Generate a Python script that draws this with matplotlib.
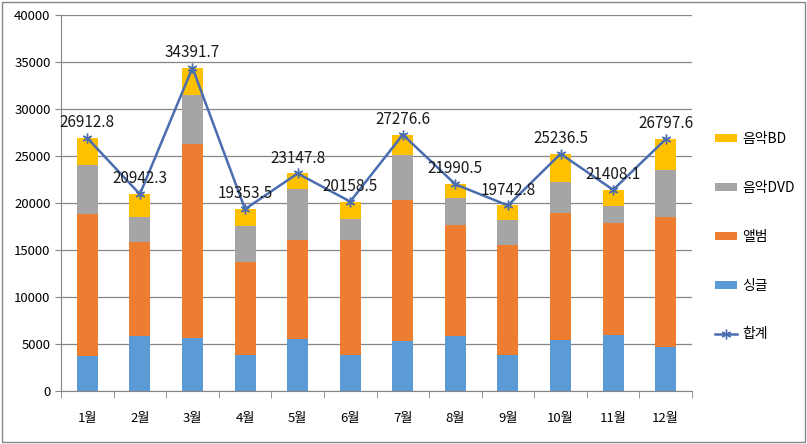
import matplotlib.pyplot as plt
from matplotlib.patches import Rectangle
import numpy as np

plt.rcParams['font.family'] = ['Noto Sans CJK KR', 'DejaVu Sans']

months = ['1월', '2월', '3월', '4월', '5월', '6월', '7월', '8월', '9월', '10월', '11월', '12월']
single = [3760, 5820, 5640, 3870, 5570, 3870, 5280, 5820, 3790, 5390, 5920, 4650]
album = [15070, 10000, 20670, 9890, 10460, 12160, 15000, 11840, 11710, 13550, 11920, 13830]
dvd = [5250, 2690, 5140, 3760, 5460, 2300, 4790, 2910, 2660, 3330, 1880, 5030]
total = [26912.8, 20942.3, 34391.7, 19353.5, 23147.8, 20158.5, 27276.6, 21990.5, 19742.8, 25236.5, 21408.1, 26797.6]
# BD는 합계에서 나머지
bd = [t - s - a - d for t, s, a, d in zip(total, single, album, dvd)]

fig = plt.figure(figsize=(8.07, 4.44), dpi=100)
ax = fig.add_axes([0.0756, 0.1194, 0.7819, 0.8466])

x = np.arange(len(months))
w = 0.4
b1 = ax.bar(x, single, w, color='#5B9BD5', label='싱글', zorder=2)
bottom = np.array(single)
b2 = ax.bar(x, album, w, bottom=bottom, color='#ED7D31', label='앨범', zorder=2)
bottom = bottom + np.array(album)
b3 = ax.bar(x, dvd, w, bottom=bottom, color='#A5A5A5', label='음악DVD', zorder=2)
bottom = bottom + np.array(dvd)
b4 = ax.bar(x, bd, w, bottom=bottom, color='#FFC000', label='음악BD', zorder=2)
ln, = ax.plot(x, total, color='#4A6DB0', lw=1.8, marker=(6, 2, 0), ms=7, mec='#4A6DB0', label='합계', zorder=3)

for xi, t in zip(x, total):
    ax.annotate(f'{t}', (xi, t), xytext=(0, 5), textcoords='offset points',
                ha='center', va='bottom', fontsize=11, color='#1a1a1a', zorder=4)

ax.set_xlim(-0.5, 11.5)
ax.set_ylim(0, 40000)
ax.set_yticks(range(0, 40001, 5000))
ax.set_xticks(x)
ax.set_xticklabels(months, fontsize=9.5)
ax.set_xticks(np.arange(-0.5, 12, 1), minor=True)
ax.tick_params(axis='x', which='major', length=0, pad=15)
ax.tick_params(axis='x', which='minor', length=5, color='#868686', direction='out')
ax.tick_params(axis='y', labelsize=9.5, length=4, color='#868686')
ax.grid(axis='y', color='#868686', lw=0.9, zorder=0)
for s in ['top', 'right']:
    ax.spines[s].set_visible(False)
for s in ['left', 'bottom']:
    ax.spines[s].set_color('#868686')

leg = fig.legend([b4, b3, b2, b1, ln], ['음악BD', '음악DVD', '앨범', '싱글', '합계'],
                 loc='upper left', bbox_to_anchor=(0.87, 0.73), frameon=False,
                 fontsize=10, labelspacing=2.5, handlelength=1.6, handleheight=0.5,
                 handletextpad=0.4)

fig.patches.append(Rectangle((0.002, 0.004), 0.996, 0.992, transform=fig.transFigure,
                             fill=False, edgecolor='#868686', lw=1))

fig.savefig('out.png', dpi=100)
